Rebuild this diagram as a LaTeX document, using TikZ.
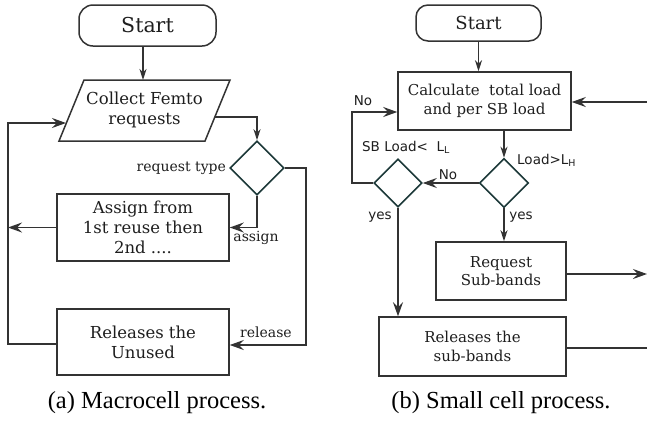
\documentclass[tikz,border=0pt]{standalone}
\usepackage{fontspec}
\setmainfont{DejaVu Serif}
\newfontfamily\capfont{Liberation Serif}
\newfontfamily\labfont{DejaVu Sans}
\usetikzlibrary{shapes.geometric,arrows.meta}

\definecolor{linec}{HTML}{333333}
\definecolor{diac}{HTML}{1C3838}
\definecolor{txtc}{HTML}{1E1E1E}

\begin{document}
\begin{tikzpicture}[x=1pt,y=-1pt,
  box/.style={draw=linec, line width=1.5pt, inner sep=0pt, align=center, text=txtc,
              font=\fontsize{16.5}{20}\selectfont},
  boxb/.style={box, font=\fontsize{15}{18.5}\selectfont},
  term/.style={box, rounded corners=14pt},
  dec/.style={diamond, aspect=1, draw=diac, line width=1.6pt, inner sep=0pt},
  conn/.style={draw=linec, line width=1.4pt},
  arr/.style={conn, -{Stealth[length=14pt,width=10pt,inset=5pt]}},
  arrs/.style={conn, -{Stealth[length=11pt,width=7pt,inset=3.5pt]}},
  slab/.style={inner sep=0pt, text=txtc, font=\fontsize{14}{16}\selectfont},
  lab/.style={inner sep=0pt, text=txtc, font=\labfont\fontsize{13.5}{15}\selectfont},
  caption/.style={inner sep=0pt, text=black, font=\capfont\fontsize{24.5}{28}\selectfont}]
\useasboundingbox (0,0) rectangle (647,424);

% ---------------- (a) Macrocell process ----------------
\node[term, minimum width=137pt, minimum height=41pt, font=\fontsize{20.5}{24}\selectfont]
  (startA) at (147.5,25.5) {Start};

% input/output parallelogram
\coordinate (pTL) at (84,80);
\coordinate (pTR) at (230,80);
\coordinate (pBR) at (205,141);
\coordinate (pBL) at (59,141);
\draw[linec, line width=1.5pt] (pTL) -- (pTR) -- (pBR) -- (pBL) -- cycle;
\node[align=center, inner sep=0pt, text=txtc, font=\fontsize{16.5}{20}\selectfont]
  (collect) at (144.5,110) {Collect Femto\\requests};
\coordinate (pIn)  at (143,80);
\coordinate (pOut) at (215,117);
\coordinate (pLeft) at (66,123);

\node[dec, minimum size=54pt] (type) at (257,168) {};
\node[box, minimum width=172pt, minimum height=67pt] (assign) at (143,227.5)
  {Assign from\\1st reuse then\\2nd ....};
\node[box, minimum width=172pt, minimum height=66pt] (release) at (143,342)
  {Releases the\\Unused};

\coordinate (leftA) at (8,227.5);
\coordinate (loopX) at (8,344);
\coordinate (rightA) at (306,168);

\draw[arrs] ([xshift=-4.5pt]startA.south) -- (pIn);
\draw[arrs] (pOut) -| (type.north);
\draw[arr] (type.south) |- (assign.east);
\draw[arr] (type.east) -- (rightA) |- ([yshift=-3pt]release.east);
\draw[arr] (assign.west) -- (leftA);
\draw[arr] ([yshift=-2pt]release.west) -- (loopX) |- (pLeft);

\node[slab, anchor=east] (lType) at ([xshift=-3pt]type.west) {request type};
\node[slab] (lAssign) at (256,238) {assign};
\node[slab] (lRelease) at (266,332) {release};

\node[caption] (capA) at (157,403) {(a) Macrocell process.};

% ---------------- (b) Small cell process ----------------
\node[term, minimum width=125pt, minimum height=36pt, rounded corners=12pt,
  font=\fontsize{18}{22}\selectfont] (startB) at (478.5,23) {Start};
\node[boxb, minimum width=173pt, minimum height=58pt] (calc) at (484.5,101)
  {Calculate\ \ total load\\and per SB load};
\node[dec, minimum size=49pt] (high) at (504,183) {};
\node[dec, minimum size=48pt] (low) at (398,183) {};
\node[boxb, minimum width=130pt, minimum height=58pt] (req) at (501,271)
  {Request\\Sub-bands};
\node[boxb, minimum width=187pt, minimum height=59pt] (relB) at (472.5,346.5)
  {Releases the\\sub-bands};

\coordinate (rIn)  at (647,102);
\coordinate (rReq) at (647,274);
\coordinate (rRel) at (647,348);
\coordinate (lowX) at (352,183);

\draw[arrs] (startB.south) -- (calc.north -| startB.south);
\draw[arr] (rIn) -- (calc.east |- rIn);
\draw[arrs] (calc.south -| high.north) -- (high.north);
\draw[arr] (high.west) -- (low.east);
\draw[arr] (low.west) -- (lowX) |- ([yshift=-11pt]calc.west);
\draw[arr] (low.south) -- (low.south |- relB.north);
\draw[arrs] (high.south) -- (high.south |- req.north);
\draw[arr] ([yshift=-3pt]req.east) -- (rReq);
\draw[conn] ([yshift=-1.5pt]relB.east) -- (rRel);

\node[lab] (lNo1) at (448,175) {No};
\node[lab] (lNo2) at (363,101) {No};
\node[lab] (lLow) at (406,147) {SB Load<\ \ L\textsubscript{L}};
\node[lab, anchor=west] (lHigh) at (517,160) {Load>L\textsubscript{H}};
\node[lab] (lYes1) at (380,217) {yes};
\node[lab] (lYes2) at (521,217) {yes};

\node[caption] (capB) at (501,403) {(b) Small cell process.};
\end{tikzpicture}
\end{document}
